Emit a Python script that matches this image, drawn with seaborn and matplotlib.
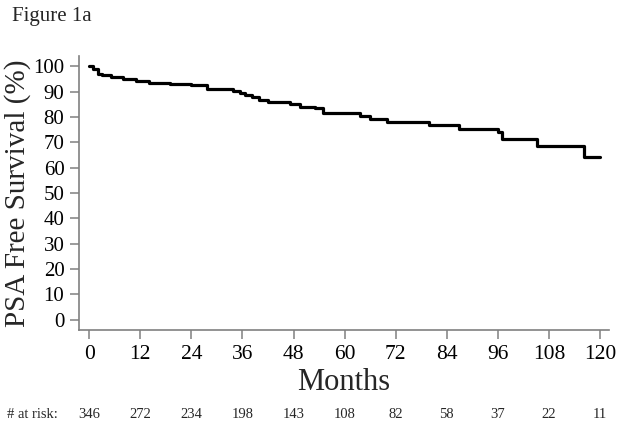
import pandas as pd
import matplotlib.pyplot as plt
import seaborn as sns

# Kaplan-Meier step values
months = [0, 1, 2, 3, 5, 8, 11, 14, 19, 24, 27.6, 33.8, 35.5, 36.6, 38.2, 40, 42,
          47.2, 49.5, 53, 55, 63.6, 66, 69.9, 79.8, 86.8, 96, 96.9, 105.1, 116.2, 120]
survival = [100, 99, 97, 96.5, 95.8, 94.9, 94.1, 93.2, 92.8, 92.4, 90.8, 90.2, 89.5,
            88.6, 87.7, 86.6, 85.7, 84.9, 84.0, 83.5, 81.4, 80.4, 79.1, 77.8, 76.8,
            75.2, 73.9, 71.1, 68.5, 64.3, 64.3]

# numbers at risk
risk_months = [0, 12, 24, 36, 48, 60, 72, 84, 96, 108, 120]
at_risk = [346, 272, 234, 198, 143, 108, 82, 58, 37, 22, 11]

df = pd.DataFrame({"Months": months, "Survival": survival})

sns.set_style("ticks")
plt.rcParams['font.family'] = ['Liberation Serif', 'DejaVu Serif']

fig = plt.figure(figsize=(6.24, 4.30), dpi=100)
ax = fig.add_axes([79 / 624, 1 - 330 / 430, 530 / 624, 274 / 430])

sns.lineplot(data=df, x="Months", y="Survival", ax=ax, color="black",
             linewidth=2.3, drawstyle="steps-post")

ax.set_xlim(-2.4, 122.1)
ax.set_ylim(-4, 104)
ax.set_xticks(risk_months)
ax.set_yticks(range(0, 101, 10))

for side in ["top", "right"]:
    ax.spines[side].set_visible(False)
for side in ["left", "bottom"]:
    ax.spines[side].set_color("#808080")
    ax.spines[side].set_linewidth(1.2)

ax.tick_params(axis="both", colors="#808080", length=6.5, width=1.1, labelcolor="black")
ax.tick_params(axis="x", labelsize=15.5, pad=4)
ax.tick_params(axis="y", labelsize=15, pad=4)

ax.set_xlabel("Months", fontsize=22, labelpad=3)
ax.set_ylabel("PSA Free Survival (%)", fontsize=21, labelpad=2)

fig.text(12 / 624, 1 - 16 / 430, "Figure 1a", fontsize=15, va="center", ha="left")

# at risk row below the axis
trans = ax.get_xaxis_transform()
fig.text(7 / 624, 1 - 414 / 430, "# at risk:", fontsize=10.5, va="center", ha="left")
for m, n in zip(risk_months, at_risk):
    ax.text(m, -(414 - 330) / 274, str(n), transform=trans, fontsize=10.5,
            ha="center", va="center")

fig.savefig("out.png", dpi=100)
